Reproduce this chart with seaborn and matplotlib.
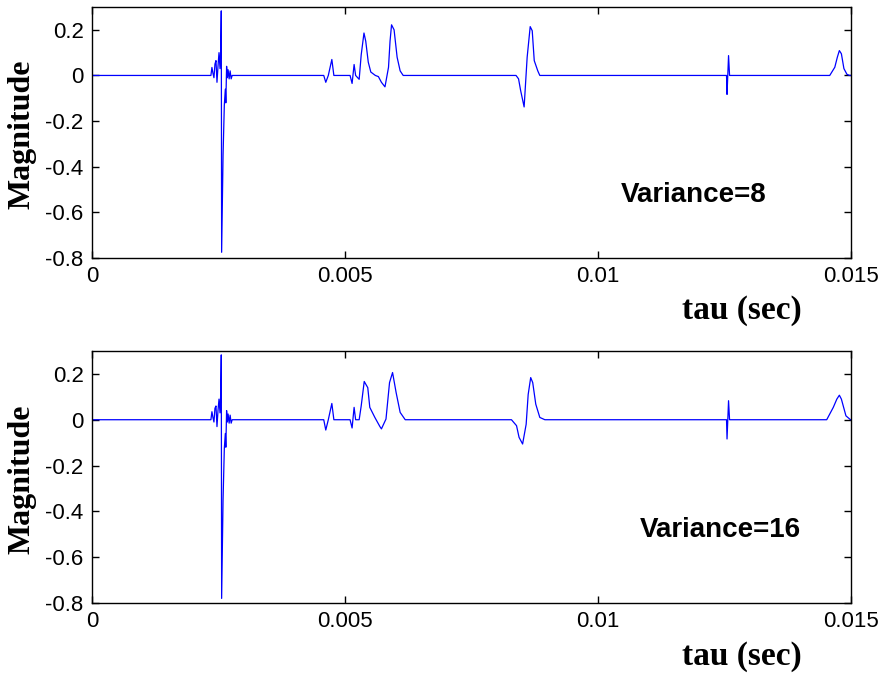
import numpy as np
import pandas as pd
import matplotlib
matplotlib.use("Agg")
import matplotlib.pyplot as plt
import seaborn as sns

# ---------------- data (time in ms, magnitude) ----------------
t_var8 = [0.0, 2.35, 2.37, 2.39, 2.41, 2.43, 2.45, 2.47, 2.49, 2.51, 2.53, 2.545,
          2.555, 2.562, 2.59, 2.615, 2.635, 2.645, 2.66, 2.675, 2.69, 2.71, 2.73,
          2.75, 2.77,
          4.58, 4.62, 4.67, 4.74, 4.78,
          5.10, 5.14, 5.18, 5.21, 5.28, 5.32, 5.375, 5.41, 5.46, 5.51, 5.60, 5.66,
          5.72, 5.79, 5.86, 5.89, 5.92, 5.97, 6.03, 6.09, 6.15,
          8.38, 8.43, 8.47, 8.54, 8.60, 8.66, 8.70, 8.74, 8.81, 8.85,
          12.54, 12.55, 12.58, 12.60,
          14.58, 14.68, 14.73, 14.77, 14.81, 14.86, 14.92, 14.97, 15.0]
v_var8 = [0.0, 0.0, 0.035, 0.01, -0.01, 0.05, 0.065, -0.03, 0.04, 0.10, 0.03, 0.12,
          0.283, -0.775, -0.35, -0.13, -0.06, -0.12, 0.04, -0.01, 0.025, -0.015, 0.02,
          -0.015, 0.0,
          0.0, -0.03, 0.0, 0.07, 0.0,
          0.0, -0.035, 0.048, 0.0, -0.017, 0.09, 0.186, 0.15, 0.058, 0.015, 0.0, -0.005,
          -0.03, -0.05, 0.036, 0.15, 0.222, 0.20, 0.08, 0.02, 0.0,
          0.0, -0.015, -0.065, -0.138, 0.08, 0.214, 0.196, 0.065, 0.02, 0.0,
          0.0, -0.083, 0.087, 0.0,
          0.0, 0.036, 0.08, 0.109, 0.095, 0.03, 0.005, 0.0, 0.0]

t_var16 = [0.0, 2.35, 2.37, 2.39, 2.41, 2.43, 2.45, 2.47, 2.49, 2.51, 2.53, 2.545,
           2.555, 2.562, 2.59, 2.615, 2.635, 2.645, 2.66, 2.675, 2.69, 2.71, 2.73,
           2.75, 2.77,
           4.58, 4.62, 4.67, 4.74, 4.78,
           5.10, 5.14, 5.18, 5.21, 5.28, 5.32, 5.38, 5.45, 5.49, 5.59, 5.69, 5.72,
           5.81, 5.88, 5.94, 6.01, 6.09, 6.19,
           8.29, 8.39, 8.44, 8.51, 8.58, 8.62, 8.67, 8.71, 8.77, 8.85, 8.95,
           12.54, 12.55, 12.58, 12.60,
           14.52, 14.65, 14.72, 14.77, 14.81, 14.90, 14.99, 15.0]
v_var16 = [0.0, 0.0, 0.035, 0.01, -0.01, 0.05, 0.06, -0.03, 0.04, 0.09, 0.03, 0.12,
           0.283, -0.78, -0.35, -0.126, -0.06, -0.12, 0.04, -0.01, 0.025, -0.015, 0.02,
           -0.015, 0.0,
           0.0, -0.045, 0.0, 0.071, 0.0,
           0.0, -0.036, 0.054, 0.0, 0.0, 0.06, 0.167, 0.14, 0.054, 0.01, -0.03, -0.04,
           0.003, 0.162, 0.206, 0.119, 0.032, 0.0,
           0.0, -0.026, -0.077, -0.106, -0.02, 0.11, 0.184, 0.162, 0.068, 0.01, 0.0,
           0.0, -0.084, 0.083, 0.0,
           0.0, 0.054, 0.09, 0.107, 0.09, 0.017, 0.0, 0.0]

series_labels = ["Variance=8", "Variance=16"]
x_ticks = [0, 0.005, 0.01, 0.015]
x_tick_labels = ["0", "0.005", "0.01", "0.015"]
y_ticks = [-0.8, -0.6, -0.4, -0.2, 0, 0.2]
y_tick_labels = ["-0.8", "-0.6", "-0.4", "-0.2", "0", "0.2"]
x_label = "tau (sec)"
y_label = "Magnitude"

# ---------------- plot ----------------
sns.set_style("ticks")
plt.rcParams["font.family"] = ["Liberation Sans", "DejaVu Sans"]
plt.rcParams["axes.unicode_minus"] = False
plt.rcParams["text.color"] = "black"
plt.rcParams["xtick.color"] = "black"
plt.rcParams["ytick.color"] = "black"
plt.rcParams["xtick.labelcolor"] = "black"
plt.rcParams["ytick.labelcolor"] = "black"

fig = plt.figure(figsize=(8.81, 6.81), dpi=100)
W, H = 881.0, 681.0
boxes = [(92, 7, 851, 258), (92, 351, 851, 603)]
series = [(t_var8, v_var8), (t_var16, v_var16)]
text_pos = [(0.697, 0.251), (0.722, 0.29)]
tau_y = [311, 657]

for i, ((l, t, r, b), (tt, vv)) in enumerate(zip(boxes, series)):
    ax = fig.add_axes([l / W, 1 - b / H, (r - l) / W, (b - t) / H])
    df = pd.DataFrame({"tau": np.array(tt) / 1000.0, "mag": vv})
    sns.lineplot(data=df, x="tau", y="mag", ax=ax, color="#0000ff",
                 linewidth=0.9, estimator=None, sort=False)
    ax.set_xlim(0, 0.015)
    ax.set_ylim(-0.8, 0.3)
    ax.set_xticks(x_ticks)
    ax.set_xticklabels(x_tick_labels)
    ax.set_yticks(y_ticks)
    ax.set_yticklabels(y_tick_labels)
    ax.tick_params(direction="in", top=True, right=True, length=5, width=1,
                   labelsize=16, pad=6, color="black", labelcolor="black")
    ax.set_xlabel("")
    ax.set_ylabel("")
    for s in ax.spines.values():
        s.set_visible(True)
        s.set_color("black")
        s.set_linewidth(1.0)
    ax.text(text_pos[i][0], text_pos[i][1], series_labels[i], transform=ax.transAxes,
            fontsize=20, fontweight="bold", ha="left", va="center", color="black",
            family=["Liberation Sans", "DejaVu Sans"])
    fig.text(742 / W, 1 - tau_y[i] / H, x_label, ha="center", va="center",
             fontsize=24, fontweight="bold", color="black",
             family=["Liberation Serif", "DejaVu Serif"])
    fig.text(22 / W, 1 - ((t + b) / 2 + 2) / H, y_label, ha="center", va="center",
             rotation=90, fontsize=23, fontweight="bold", color="black",
             family=["Liberation Serif", "DejaVu Serif"])

fig.savefig("out.png", dpi=100)
